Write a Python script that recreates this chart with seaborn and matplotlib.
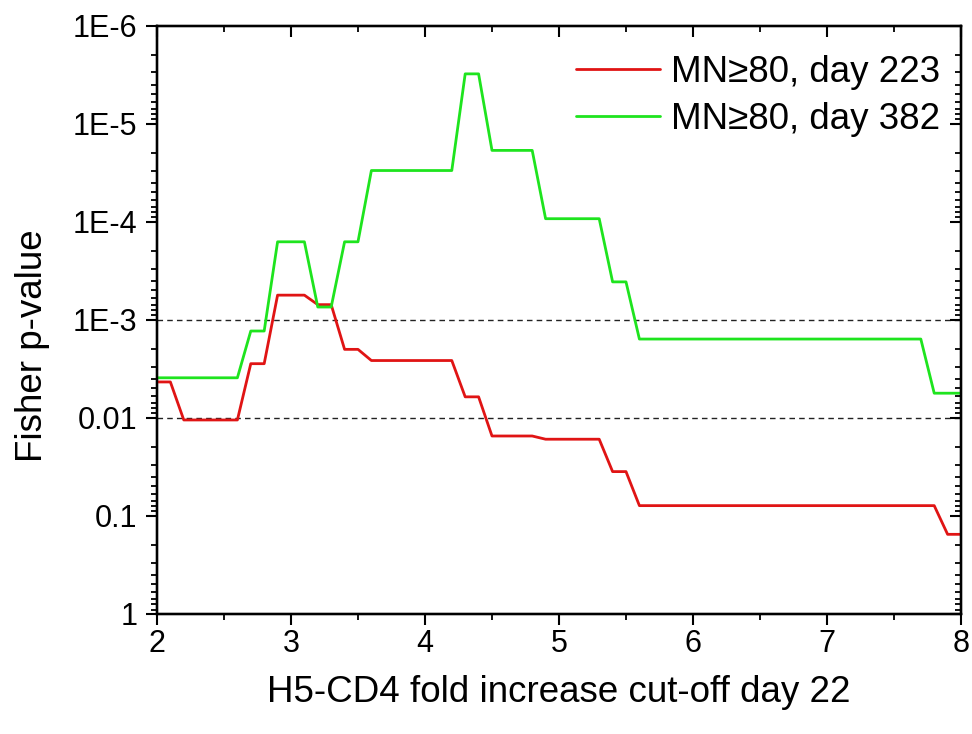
import numpy as np
import pandas as pd
import matplotlib
matplotlib.use("Agg")
import matplotlib.pyplot as plt
import matplotlib.ticker as mticker
import seaborn as sns

# ----------------------
# data (breakpoints of the step curves)
# ----------------------
x_223 = [2.0, 2.1, 2.2, 2.6, 2.7, 2.8, 2.9, 3.1, 3.2, 3.3, 3.4, 3.5, 3.6,
         4.2, 4.3, 4.4, 4.5, 4.8, 4.9, 5.3, 5.4, 5.5, 5.6, 7.8, 7.9, 8.0]
p_223 = [4.3e-3, 4.3e-3, 0.0105, 0.0105, 2.8e-3, 2.8e-3, 5.6e-4, 5.6e-4,
         7.0e-4, 7.0e-4, 2.0e-3, 2.0e-3, 2.6e-3, 2.6e-3, 6.1e-3, 6.1e-3,
         0.0153, 0.0153, 0.0165, 0.0165, 0.0353, 0.0353, 0.0785, 0.0785,
         0.154, 0.154]

x_382 = [2.0, 2.6, 2.7, 2.8, 2.9, 3.1, 3.2, 3.3, 3.4, 3.5, 3.6, 4.2, 4.3,
         4.4, 4.5, 4.8, 4.9, 5.3, 5.4, 5.5, 5.6, 7.7, 7.8, 8.0]
p_382 = [3.9e-3, 3.9e-3, 1.3e-3, 1.3e-3, 1.6e-4, 1.6e-4, 7.4e-4, 7.4e-4,
         1.6e-4, 1.6e-4, 3.0e-5, 3.0e-5, 3.1e-6, 3.1e-6, 1.87e-5, 1.87e-5,
         9.3e-5, 9.3e-5, 4.1e-4, 4.1e-4, 1.57e-3, 1.57e-3, 5.6e-3, 5.6e-3]

series_names = ["MN\u226580, day 223", "MN\u226580, day 382"]
colors = ["#e01414", "#1ee41e"]

y_ticks = [1e-6, 1e-5, 1e-4, 1e-3, 1e-2, 1e-1, 1]
y_ticklabels = ["1E-6", "1E-5", "1E-4", "1E-3", "0.01", "0.1", "1"]
ref_lines = [1e-3, 1e-2]

df = pd.concat([
    pd.DataFrame({"x": x_223, "p": p_223, "series": series_names[0]}),
    pd.DataFrame({"x": x_382, "p": p_382, "series": series_names[1]}),
])

# ----------------------
# plot
# ----------------------
sns.set_style("ticks")
plt.rcParams["font.family"] = ["Liberation Sans", "DejaVu Sans"]
plt.rcParams["text.color"] = "black"
plt.rcParams["axes.labelcolor"] = "black"

fig = plt.figure(figsize=(9.72, 7.34), dpi=100)
ax = fig.add_axes([0.1615, 0.1635, 0.8272, 0.8015])

for yv in ref_lines:
    ax.axhline(yv, color="#222222", lw=1.0, ls=(0, (4, 3)), zorder=1)

sns.lineplot(data=df, x="x", y="p", hue="series", palette=colors,
             estimator=None, sort=False, lw=2.0, ax=ax, zorder=3)

ax.set_yscale("log")
ax.set_xlim(2, 8)
ax.set_ylim(1, 1e-6)

ax.yaxis.set_major_locator(mticker.FixedLocator(y_ticks))
ax.yaxis.set_major_formatter(mticker.FixedFormatter(y_ticklabels))
ax.yaxis.set_minor_locator(mticker.LogLocator(base=10, subs=np.arange(2, 10), numticks=20))
ax.yaxis.set_minor_formatter(mticker.NullFormatter())
ax.xaxis.set_major_locator(mticker.MultipleLocator(1))
ax.xaxis.set_minor_locator(mticker.MultipleLocator(0.5))

for s in ax.spines.values():
    s.set_linewidth(1.6)
    s.set_color("black")

ax.tick_params(which="major", direction="out", length=8, width=1.5, labelsize=22,
               colors="black", labelcolor="black")
ax.tick_params(which="minor", direction="out", length=4.5, width=1.3, colors="black")
ax.tick_params(axis="y", which="major", pad=6)
ax.tick_params(axis="x", which="major", pad=3)

# mirrored ticks on top/right, pointing inward
axr = ax.twinx()
axr.set_yscale("log")
axr.set_ylim(1, 1e-6)
axr.yaxis.set_major_locator(mticker.FixedLocator(y_ticks))
axr.yaxis.set_minor_locator(mticker.LogLocator(base=10, subs=np.arange(2, 10), numticks=20))
axr.tick_params(which="major", direction="in", length=8, width=1.5, labelright=False, colors="black")
axr.tick_params(which="minor", direction="in", length=4.5, width=1.3, colors="black")
axt = ax.twiny()
axt.set_xlim(2, 8)
axt.xaxis.set_major_locator(mticker.MultipleLocator(1))
axt.xaxis.set_minor_locator(mticker.MultipleLocator(0.5))
axt.tick_params(which="major", direction="in", length=8, width=1.5, labeltop=False, colors="black")
axt.tick_params(which="minor", direction="in", length=4.5, width=1.3, colors="black")
for a in (axr, axt):
    for s in a.spines.values():
        s.set_linewidth(1.6)
        s.set_color("black")

ax.set_xlabel("H5-CD4 fold increase cut-off day 22", fontsize=26.5)
ax.set_ylabel("Fisher p-value", fontsize=26.5)
ax.xaxis.set_label_coords(0.5, -0.104)
ax.yaxis.set_label_coords(-0.133, 0.456)

handles, labels = ax.get_legend_handles_labels()
ax.legend(handles, labels, loc="upper right", bbox_to_anchor=(0.992, 0.975),
          frameon=False, fontsize=26.5, handlelength=2.28, handletextpad=0.3,
          labelspacing=0.31, borderaxespad=0.0)

fig.savefig("out.png", dpi=100)
